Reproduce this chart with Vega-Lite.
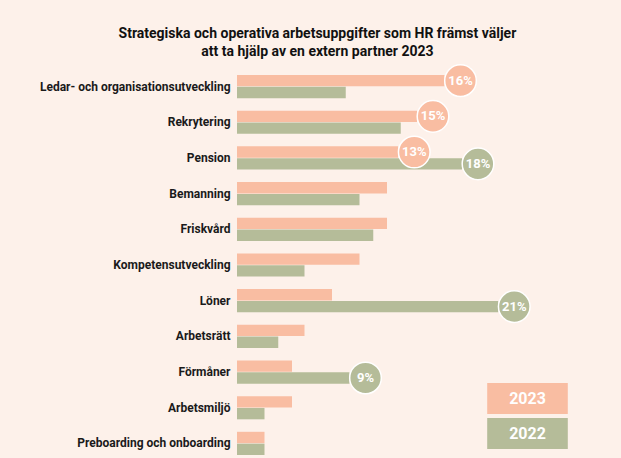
{
  "$schema": "https://vega.github.io/schema/vega-lite/v6.json",
  "width": 300,
  "height": 380,
  "autosize": {"type": "none"},
  "padding": {"left": 237, "top": 75, "right": 84, "bottom": 3},
  "background": "#FDF1EA",
  "title": {
    "text": ["Strategiska och operativa arbetsuppgifter som HR främst väljer", "att ta hjälp av en extern partner 2023"],
    "font": "Roboto",
    "fontSize": 14,
    "fontWeight": "bold",
    "color": "#111111",
    "anchor": "start",
    "align": "center",
    "dx": 278,
    "offset": 3,
    "lineHeight": 18
  },
  "config": {
    "view": {"stroke": null},
    "font": "Roboto"
  },
  "data": {
    "values": [
      {"category": "Ledar- och organisationsutveckling", "year": "2023", "value": 16.6, "label": "16%"},
      {"category": "Ledar- och organisationsutveckling", "year": "2022", "value": 8.7, "label": null},
      {"category": "Rekrytering", "year": "2023", "value": 14.4, "label": "15%"},
      {"category": "Rekrytering", "year": "2022", "value": 13.1, "label": null},
      {"category": "Pension", "year": "2023", "value": 12.9, "label": "13%"},
      {"category": "Pension", "year": "2022", "value": 18, "label": "18%"},
      {"category": "Bemanning", "year": "2023", "value": 12, "label": null},
      {"category": "Bemanning", "year": "2022", "value": 9.8, "label": null},
      {"category": "Friskvård", "year": "2023", "value": 12, "label": null},
      {"category": "Friskvård", "year": "2022", "value": 10.9, "label": null},
      {"category": "Kompetensutveckling", "year": "2023", "value": 9.8, "label": null},
      {"category": "Kompetensutveckling", "year": "2022", "value": 5.4, "label": null},
      {"category": "Löner", "year": "2023", "value": 7.6, "label": null},
      {"category": "Löner", "year": "2022", "value": 20.9, "label": "21%"},
      {"category": "Arbetsrätt", "year": "2023", "value": 5.4, "label": null},
      {"category": "Arbetsrätt", "year": "2022", "value": 3.3, "label": null},
      {"category": "Förmåner", "year": "2023", "value": 4.4, "label": null},
      {"category": "Förmåner", "year": "2022", "value": 9, "label": "9%"},
      {"category": "Arbetsmiljö", "year": "2023", "value": 4.4, "label": null},
      {"category": "Arbetsmiljö", "year": "2022", "value": 2.2, "label": null},
      {"category": "Preboarding och onboarding", "year": "2023", "value": 2.2, "label": null},
      {"category": "Preboarding och onboarding", "year": "2022", "value": 2.2, "label": null}
    ]
  },
  "encoding": {
    "y": {
      "field": "category",
      "type": "nominal",
      "sort": null,
      "scale": {"paddingInner": 0.35, "paddingOuter": 0},
      "axis": {
        "title": null,
        "domain": false,
        "ticks": false,
        "labelFont": "Roboto",
        "labelFontSize": 12,
        "labelFontWeight": "bold",
        "labelColor": "#1A1A1A",
        "labelPadding": 7,
        "labelLimit": 300
      }
    },
    "yOffset": {
      "field": "year",
      "type": "nominal",
      "sort": ["2023", "2022"],
      "scale": {"paddingInner": 0.04}
    },
    "x": {
      "field": "value",
      "type": "quantitative",
      "scale": {"domain": [0, 24]},
      "axis": null
    }
  },
  "layer": [
    {
      "mark": {"type": "bar"},
      "encoding": {
        "color": {
          "field": "year",
          "type": "nominal",
          "sort": ["2023", "2022"],
          "scale": {"domain": ["2023", "2022"], "range": ["#F9BDA2", "#B5BC99"]},
          "legend": {
            "title": null,
            "orient": "none",
            "legendX": 275,
            "legendY": 308,
            "direction": "vertical",
            "symbolType": "M-2.6,-1H2.6V1H-2.6Z",
            "symbolSize": 961,
            "symbolStrokeWidth": 0,
            "symbolOpacity": 1,
            "rowPadding": 4,
            "labelOffset": -15.5,
            "labelAlign": "center",
            "labelColor": "#FFFFFF",
            "labelFont": "Roboto",
            "labelFontSize": 16,
            "labelFontWeight": "bold",
            "padding": 0
          }
        }
      }
    },
    {
      "transform": [
        {"filter": "datum.label != null"}
      ],
      "mark": {"type": "point", "shape": "circle", "filled": true, "size": 1000, "stroke": "#FFFFFF", "strokeWidth": 1.5, "opacity": 1, "xOffset": 16},
      "encoding": {
        "color": {"field": "year", "type": "nominal", "legend": null},
        "stroke": {"value": "#FFFFFF"}
      }
    },
    {
      "transform": [
        {"filter": "datum.label != null"}
      ],
      "mark": {"type": "text", "xOffset": 16, "color": "#FFFFFF", "font": "Roboto", "fontSize": 13, "fontWeight": "bold", "align": "center", "baseline": "middle"},
      "encoding": {
        "text": {"field": "label"}
      }
    }
  ]
}
